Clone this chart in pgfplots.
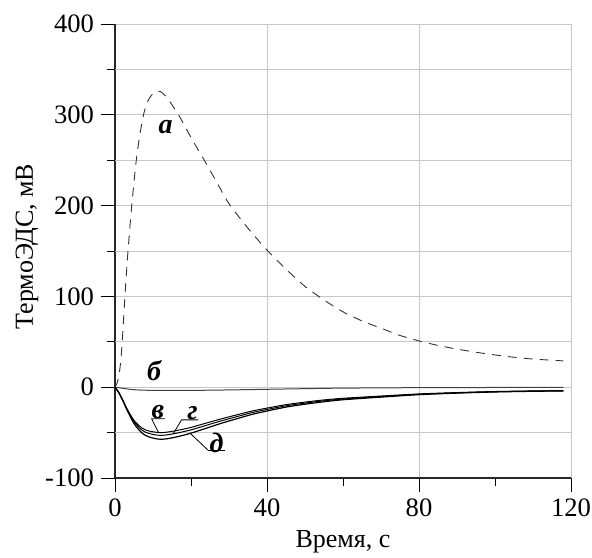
\documentclass[border=0pt]{standalone}
\usepackage{fontspec}
\setmainfont{Liberation Serif}
\usepackage{pgfplots}
\pgfplotsset{compat=1.18}

\begin{document}
\begin{tikzpicture}
\begin{axis}[
  scale only axis,
  width=228pt, height=227pt,
  xmin=0, xmax=120, ymin=-100, ymax=400,
  xtick={0,40,80,120}, minor xtick={20,60,100},
  ytick={-100,0,...,400},
  extra y ticks={-50,50,150,250,350},
  extra y tick labels={},
  extra y tick style={major tick length=3.75pt, ymajorgrids=true},
  axis x line*=bottom, axis y line*=left,
  x axis line style={-}, y axis line style={-},
  axis line style={black!85, line width=0.6pt},
  tick align=outside,
  major tick length=7pt, minor tick length=3.75pt,
  tick style={black, line width=0.5pt},
  xmajorgrids, ymajorgrids,
  major grid style={black!22, line width=0.5pt},
  /pgf/number format/assume math mode=true,
  ticklabel style={font=\fontsize{13.3}{16}\selectfont},
  label style={font=\fontsize{13}{16}\selectfont},
  xlabel={Время, с},
  ylabel={ТермоЭДС, мВ},
  ylabel style={at={(rel axis cs:0,0.51)}, anchor=base, yshift=41pt},
]
% a
\addplot[black!80, line width=0.45pt, dash pattern=on 4.5pt off 3.5pt, smooth, tension=0.4] coordinates {
(0,0) (0.5,4) (1,12) (1.5,28) (1.9,50) (2.3,78) (2.6,99) (3,125) (3.4,149)
(3.9,175) (4.4,200) (5,226) (5.6,250) (6.5,277) (7.5,300) (8.5,314) (9.5,321)
(10.5,325) (11.3,326) (12,325.5) (13,322) (14,317) (15,311) (17,298) (20,275)
(23.5,250) (27,224) (30,202) (35,175) (40,151) (45,130) (50,111) (55,96)
(60,83) (65,73) (70,65) (75,57) (80,51) (85,46) (90,42) (95,38.5) (100,35.5)
(105,33) (110,31) (118,29)
};
% б
\addplot[black!75, line width=0.5pt, smooth, tension=0.4] coordinates {
(0,0) (2,-1.2) (4,-2.3) (6,-3) (10,-3.5) (20,-3.5) (30,-3) (40,-2.3)
(50,-1.6) (60,-1) (80,-0.5) (100,-0.3) (118,-0.2)
};
% в
\addplot[black, line width=0.5pt, smooth, tension=0.4] coordinates {
(0,0) (1,-6) (2,-13.8) (3,-22.5) (4,-30) (5,-36.5) (6,-41) (7,-44.7) (8,-47)
(9,-48.3) (10,-49.1) (11,-49.7) (12,-50) (13,-49.8) (14,-49.3) (16,-47.9)
(18,-46.2) (20,-44.3) (24,-39.5) (28,-34.8) (32,-30.5) (36,-26.3) (40,-23)
(45,-19.2) (50,-16.4) (55,-14) (60,-12.2) (70,-9.7) (80,-7.4) (90,-5.9)
(100,-4.75) (110,-4.1) (118,-3.7)
};
% г
\addplot[black, line width=0.5pt, smooth, tension=0.4] coordinates {
(0,0) (1,-6) (2,-14) (3,-23) (4,-31) (5,-38) (6,-43) (7,-47) (8,-49.5)
(9,-51) (10,-52) (11,-52.7) (12,-53) (13,-52.8) (14,-52.3) (16,-50.8)
(18,-49) (20,-47) (24,-42) (28,-37) (32,-32.5) (36,-28) (40,-24.5)
(45,-20.5) (50,-17.5) (55,-15) (60,-13) (70,-10.3) (80,-7.8) (90,-6.2)
(100,-5) (110,-4.3) (118,-3.9)
};
% д
\addplot[black, line width=0.6pt, smooth, tension=0.4] coordinates {
(0,0) (1,-6) (2,-14.3) (3,-23.7) (4,-32.3) (5,-40) (6,-45.6) (7,-50.1)
(8,-53) (9,-54.8) (10,-56) (11,-56.9) (12,-57.3) (13,-57.1) (14,-56.6)
(16,-54.9) (18,-52.9) (20,-50.6) (24,-45.2) (28,-39.7) (32,-34.8) (36,-30)
(40,-26.2) (45,-21.9) (50,-18.7) (55,-16) (60,-13.8) (70,-10.9) (80,-8.2)
(90,-6.5) (100,-5.25) (110,-4.5) (118,-4.1)
};
% leaders
\draw[black, line width=0.4pt] (axis cs:13.2,-34.8) -- (axis cs:9.65,-34.8) -- (axis cs:11.4,-49.6);
\draw[black, line width=0.4pt] (axis cs:15.3,-51.5) -- (axis cs:17.5,-36) -- (axis cs:21.9,-36);
\draw[black, line width=0.4pt] (axis cs:19.7,-50.5) -- (axis cs:24.6,-69.8) -- (axis cs:28.9,-69.8);
% labels
\begin{scope}[every node/.style={font=\bfseries\itshape\fontsize{14}{16}\selectfont, inner sep=0pt}]
\node at (axis cs:13.3,287) {а};
\node at (axis cs:10.3,18) {б};
\node at (axis cs:11.3,-27.5) {в};
\node at (axis cs:20.4,-28) {г};
\node at (axis cs:26.7,-61) {д};
\end{scope}
\coordinate (sw) at (rel axis cs:0,0);
\coordinate (ne) at (rel axis cs:1,1);
\end{axis}
\pgfresetboundingbox
\path ([xshift=-57.5pt,yshift=-39.65pt]sw) rectangle ([xshift=10.5pt,yshift=12pt]ne);
\end{tikzpicture}
\end{document}
